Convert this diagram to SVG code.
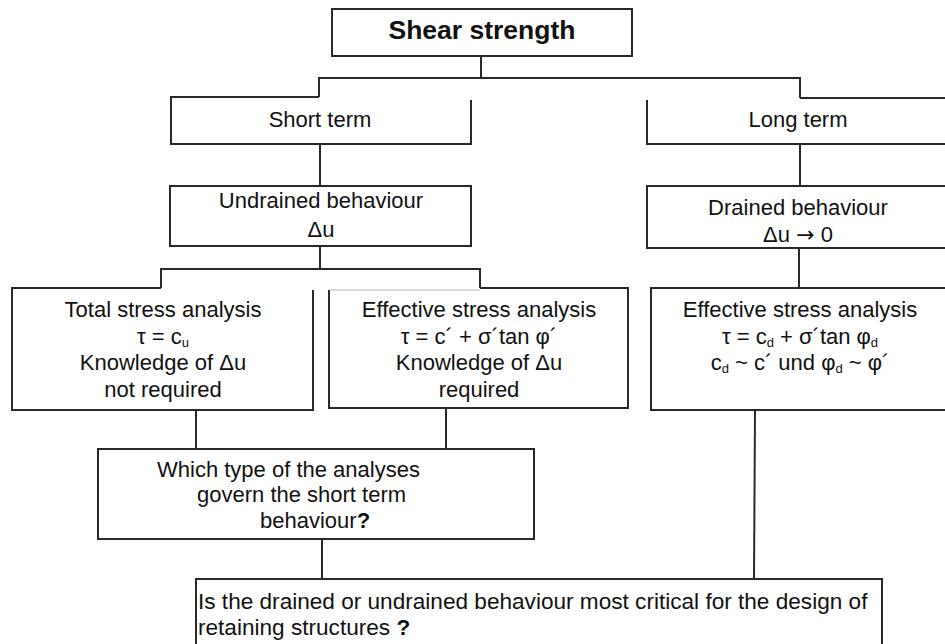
<svg xmlns="http://www.w3.org/2000/svg" width="945" height="644" viewBox="0 0 945 644">
<style>
.ln{fill:none;stroke:#2a2a2a;stroke-width:2}
.faint{fill:none;stroke:#cfcfcf;stroke-width:1.5}
text{font-family:"Liberation Sans",Arial,sans-serif;font-size:22px;fill:#111}
.c{text-anchor:middle}
.t{font-weight:bold;font-size:26.5px}
.sub{font-size:13px}
.big{font-size:22.6px}
.arr{font-family:"DejaVu Sans",sans-serif}
</style>
<rect width="945" height="644" fill="#fff"/>
<g id="connectors">
<path class="ln" d="M481,56 V78"/>
<path class="ln" d="M319,97 V78 H800 V98"/>
<path class="ln" d="M320,144 V186"/>
<path class="ln" d="M800,144 V186"/>
<path class="ln" d="M320,246 V269"/>
<path class="ln" d="M161,288 V269 H480 V288"/>
<path class="ln" d="M799,248 V288"/>
<path class="ln" d="M196,410 V449"/>
<path class="ln" d="M446,408 V449"/>
<path class="ln" d="M755,410 L754,579"/>
<path class="ln" d="M322,539 V579"/>
</g>
<g id="shear-strength">
<rect class="ln" x="332" y="9" width="300" height="47"/>
<text class="c t" x="482" y="39">Shear strength</text>
</g>
<g id="short-term">
<path class="ln" d="M319,97 H171 V144 H471 V100"/>
<text class="c" x="320" y="127">Short term</text>
</g>
<g id="long-term">
<path class="ln" d="M647,100 V144 H947"/>
<path class="ln" d="M800,98 H947"/>
<text class="c" x="798" y="127">Long term</text>
</g>
<g id="undrained">
<rect class="ln" x="170" y="186" width="301" height="60"/>
<text class="c" x="321" y="208">Undrained behaviour</text>
<text class="c" x="321" y="237">Δu</text>
</g>
<g id="drained">
<path class="ln" d="M947,186 H647 V248 H947"/>
<text class="c" x="798" y="215">Drained behaviour</text>
<text class="c" x="798" y="242">Δu <tspan class="arr">→</tspan> 0</text>
</g>
<g id="total-stress">
<path class="ln" d="M161,288 H12 V410 H313 V290"/>
<text class="c" x="163" y="317">Total stress analysis</text>
<text class="c" x="163" y="344">τ = c<tspan class="sub" dy="3">u</tspan></text>
<text class="c" x="163" y="370">Knowledge of Δu</text>
<text class="c" x="163" y="397">not required</text>
</g>
<g id="effective-short">
<path class="faint" d="M329,290 H480"/>
<path class="ln" d="M480,288 H628 V408 H329 V290"/>
<text class="c" x="479" y="317">Effective stress analysis</text>
<text class="c" x="479" y="344">τ = c´ + σ´tan φ´</text>
<text class="c" x="479" y="370">Knowledge of Δu</text>
<text class="c" x="479" y="397">required</text>
</g>
<g id="effective-long">
<path class="ln" d="M947,288 H651 V410 H947"/>
<text class="c" x="800" y="317">Effective stress analysis</text>
<text class="c" x="800" y="344">τ = c<tspan class="sub" dy="3">d</tspan><tspan dy="-3"> + σ´tan φ</tspan><tspan class="sub" dy="3">d</tspan></text>
<text class="c" x="800" y="370">c<tspan class="sub" dy="3">d</tspan><tspan dy="-3"> ~ c´ und φ</tspan><tspan class="sub" dy="3">d</tspan><tspan dy="-3"> ~ φ´</tspan></text>
</g>
<g id="which-type">
<rect class="ln" x="98" y="449" width="436" height="90"/>
<text x="157" y="477">Which type of the analyses</text>
<text x="197" y="502">govern the short term</text>
<text x="260" y="528">behaviour<tspan font-weight="bold">?</tspan></text>
</g>
<g id="critical">
<path class="ln" d="M196,646 V579 H882 V646"/>
<text class="big" x="198" y="609">Is the drained or undrained behaviour most critical for the design of</text>
<text class="big" x="198" y="635">retaining structures <tspan font-weight="bold">?</tspan></text>
</g>
</svg>
